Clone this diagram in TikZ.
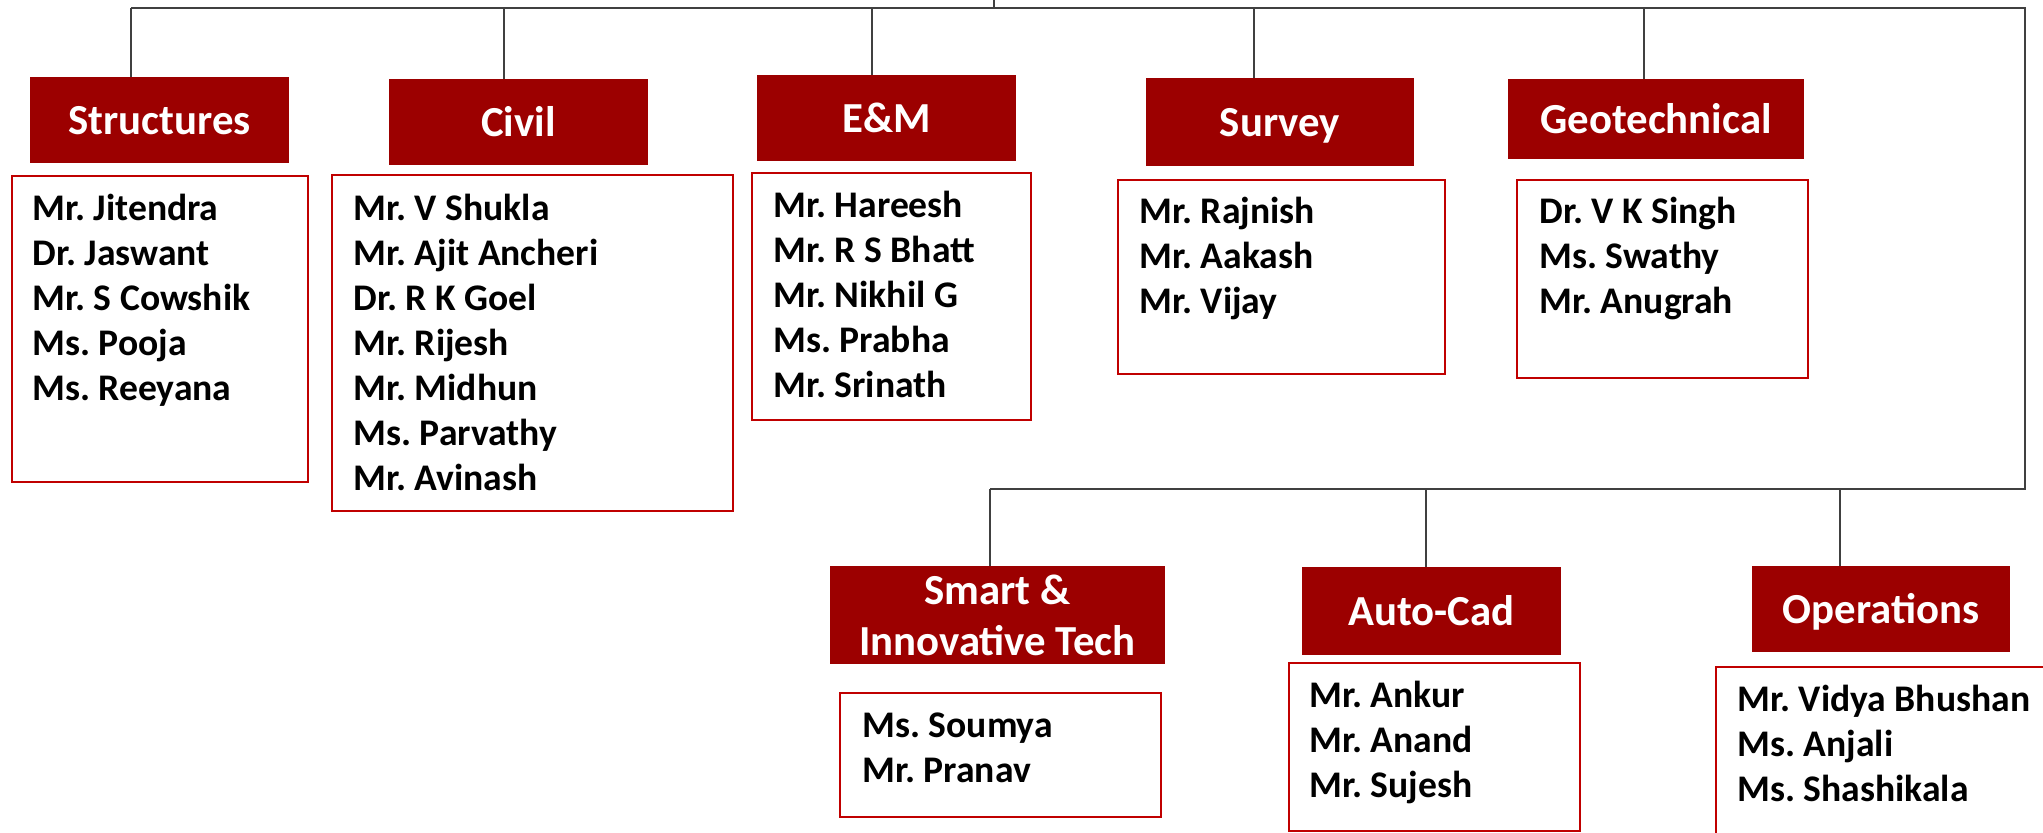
\documentclass[tikz,border=0pt]{standalone}
\usepackage{fontspec}
\setmainfont{Carlito}
\usetikzlibrary{fit, positioning, calc}
\definecolor{hdred}{HTML}{9C0000}
\definecolor{boxred}{HTML}{C00000}
\definecolor{linegray}{HTML}{404040}
\newcommand\hdfont{\fontsize{21.4}{25.5}\selectfont\bfseries}
\newcommand\nmfont{\fontsize{18.8}{22}\selectfont\bfseries}
\frenchspacing

\begin{document}
\begin{tikzpicture}
        [
            x=0.5pt, y=-0.5pt,
            head/.style={rectangle, fill=hdred, text=white, inner sep=0pt,
                         font=\hdfont, align=center},
            onehead/.style={head, text height=16.5pt, text depth=2pt},
            list/.style={rectangle, draw=boxred, line width=0.8pt, inner sep=0pt},
            member/.style={anchor=base west, inner sep=0pt, font=\nmfont},
            bus/.style={draw=linegray, line width=0.8pt},
            drop/.style={draw=linegray, line width=0.6pt}
        ]
        \useasboundingbox (0,0) rectangle (2043,832);
        \clip (0,0) rectangle (2043,832);
        % headers
        \node (st) [onehead, minimum width=129.5pt, minimum height=43pt] at (159.5,120) {Structures};
        \node (cv) [onehead, minimum width=129.5pt, minimum height=43pt] at (518.5,122) {Civil};
        \node (em) [onehead, minimum width=129.5pt, minimum height=43pt] at (886.5,118) {E\&M};
        \node (sv) [onehead, minimum width=134pt, minimum height=44pt] at (1280,122) {Survey};
        \node (gt) [onehead, minimum width=148pt, minimum height=40pt] at (1656,119) {Geotechnical};
        \node (si) [head, minimum width=167.5pt, minimum height=49pt] at (997.5,615) {Smart \&\\Innovative Tech};
        \node (ac) [onehead, minimum width=129.5pt, minimum height=44pt] at (1431.5,611) {Auto-Cad};
        \node (op) [onehead, minimum width=129pt, minimum height=43pt] at (1881,609) {Operations};
        % member boxes
        \node (stL) [list, fit={(12,176) (308,482)}] {};
        \node (cvL) [list, fit={(332,175) (733,511)}] {};
        \node (emL) [list, fit={(752,173) (1031,420)}] {};
        \node (svL) [list, fit={(1118,180) (1445,374)}] {};
        \node (gtL) [list, fit={(1517,180) (1808,378)}] {};
        \node (siL) [list, fit={(840,693) (1161,817)}] {};
        \node (acL) [list, fit={(1289,663) (1580,831)}] {};
        \node (opL) [list, fit={(1716,667) (2080,870)}] {};
        % members
        \foreach \x/\y/\tag/\names in {
            32/175/st/{Mr. Jitendra, Dr. Jaswant, Mr. S Cowshik, Ms. Pooja, Ms. Reeyana},
            353/175/cv/{Mr. V Shukla, Mr. Ajit Ancheri, Dr. R K Goel, Mr. Rijesh, Mr. Midhun, Ms. Parvathy, Mr. Avinash},
            773/172/em/{Mr. Hareesh, Mr. R S Bhatt, Mr. Nikhil G, Ms. Prabha, Mr. Srinath},
            1139/178/sv/{Mr. Rajnish, Mr. Aakash, Mr. Vijay},
            1539/178/gt/{Dr. V K Singh, Ms. Swathy, Mr. Anugrah},
            862/692/si/{Ms. Soumya, Mr. Pranav},
            1309/662/ac/{Mr. Ankur, Mr. Anand, Mr. Sujesh},
            1737/666/op/{Mr. Vidya Bhushan, Ms. Anjali, Ms. Shashikala}}
            \foreach \who [count=\i] in \names
                \node (\tag\i) [member] at (\x, \y+45*\i) {\who};
        % lines
        \coordinate (root) at (994,0);
        \coordinate (busL) at (131,8);
        \coordinate (busR) at (2025,8);
        \coordinate (lowR) at (2025,489);
        \coordinate (lowL) at (990,489);
        \draw [bus] (busL) -- (busR) -- (lowR) -- (lowL);
        \draw [drop] (root) -- (root |- busL);
        \foreach \x/\n in {131/st,504/cv,872/em,1254/sv,1644/gt}
        {
            \coordinate (d\n) at (\x,8);
            \draw [drop] (d\n) -- (d\n |- \n.north);
        }
        \foreach \x/\n in {990/si,1426/ac,1840/op}
        {
            \coordinate (d\n) at (\x,489);
            \draw [drop] (d\n) -- (d\n |- \n.north);
        }
    \end{tikzpicture}
\end{document}
